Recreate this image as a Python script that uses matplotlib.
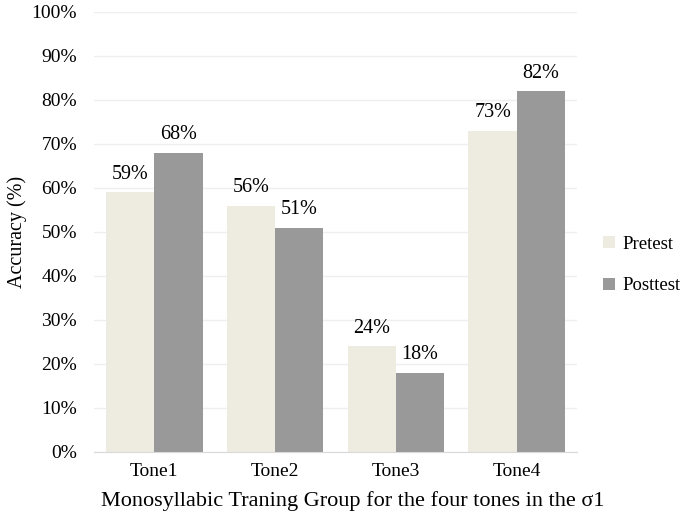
import numpy as np
import matplotlib.pyplot as plt

plt.rcParams['font.family'] = ['Liberation Serif', 'DejaVu Serif']

tones = ["Tone1", "Tone2", "Tone3", "Tone4"]
pretest = [0.59, 0.56, 0.24, 0.73]
posttest = [0.68, 0.51, 0.18, 0.82]

fig = plt.figure(figsize=(6.84, 5.2), dpi=100)
ax = fig.add_axes([0.137, 0.131, 0.707, 0.846])

x = np.arange(len(tones))
w = 0.4
b1 = ax.bar(x - w/2, pretest, w, color='#EEECE1', label='Pretest', zorder=2)
b2 = ax.bar(x + w/2, posttest, w, color='#999999', label='Posttest', zorder=2)

for bars, vals in ((b1, pretest), (b2, posttest)):
    for r, v in zip(bars, vals):
        ax.annotate(f"{v:.0%}", (r.get_x() + r.get_width()/2, v),
                    xytext=(0, 6), textcoords='offset points',
                    ha='center', va='bottom', fontsize=14.5)

ax.set_xlim(-0.5, 3.5)
ax.set_ylim(0, 1)
ticks = np.arange(0, 1.01, 0.1)
ax.set_yticks(ticks)
ax.set_yticklabels([f"{int(round(t*100))}%" for t in ticks])
ax.set_xticks(x)
ax.set_xticklabels(tones)
ax.tick_params(length=0, labelsize=14)
ax.tick_params(axis='x', pad=8)
ax.tick_params(axis='y', pad=12)
ax.grid(axis='y', color='#EFEFEF', linewidth=1, zorder=0)
for s in ('top', 'right', 'left'):
    ax.spines[s].set_visible(False)
ax.spines['bottom'].set_color('#D9D9D9')

ax.set_ylabel("Accuracy (%)", fontsize=14.5, labelpad=3)
ax.set_xlabel("Monosyllabic Traning Group for the four tones in the σ1", fontsize=16)
ax.xaxis.set_label_coords(0.536, -0.09)

fig.legend(handles=[b1, b2], loc='center left', bbox_to_anchor=(0.882, 0.49),
           frameon=False, fontsize=13.5, handlelength=0.6, handleheight=0.6,
           handletextpad=0.4, labelspacing=1.3, borderpad=0, borderaxespad=0)

fig.savefig("out.png", dpi=100)
